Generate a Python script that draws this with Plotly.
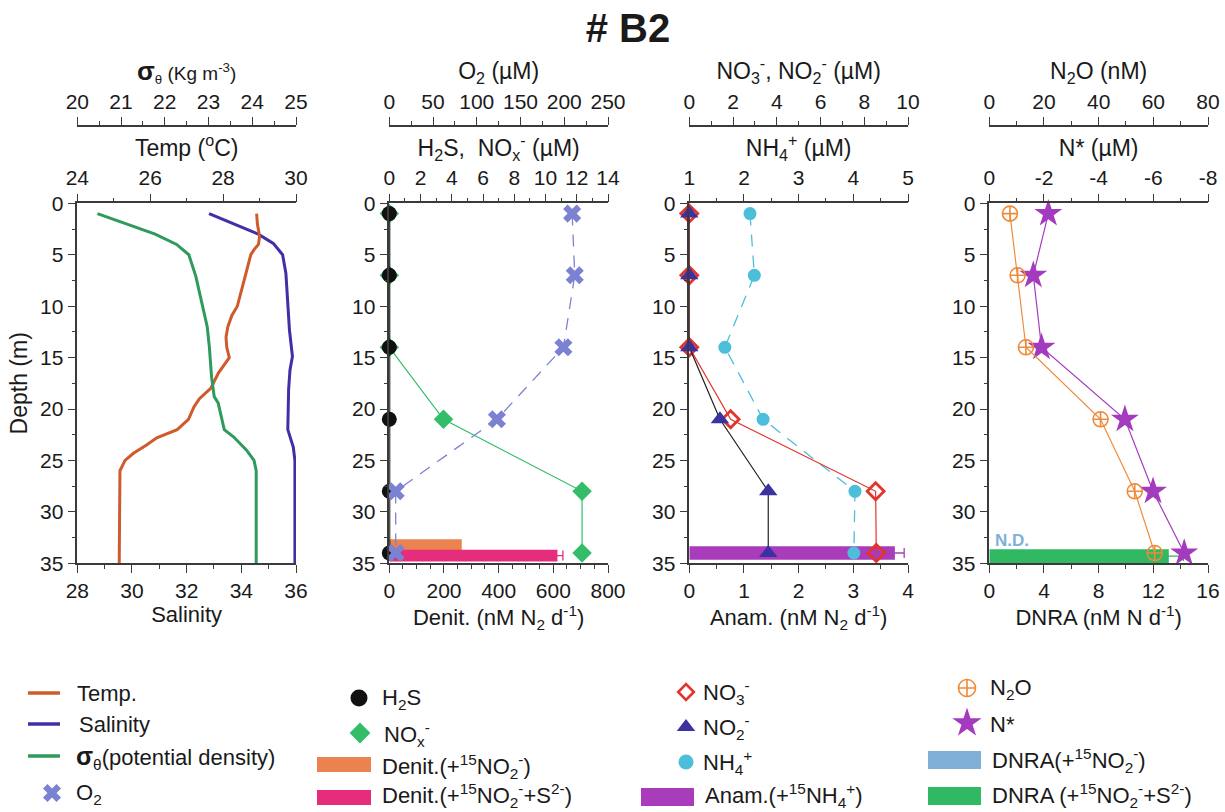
import plotly.graph_objects as go

FONT = "Liberation Sans, Arial, sans-serif"
INK = "#1a1a1a"
AXIS = "#3a3a3a"
W, H = 1225, 812

# ---------------- CTD profile ----------------
temp_depth = [1, 2, 3.2, 4, 4.5, 5, 6.5, 7.5, 9, 10, 10.9, 12, 13, 14, 15, 15.9, 16.5,
              18, 19, 19.8, 21, 22, 22.8, 23.5, 24.3, 25, 26, 35]
temperature = [28.92, 28.94, 29.00, 28.97, 28.85, 28.76, 28.65, 28.58, 28.48, 28.39, 28.24,
               28.13, 28.08, 28.10, 28.17, 27.99, 27.87, 27.66, 27.35, 27.20, 27.05, 26.74,
               26.18, 25.90, 25.54, 25.31, 25.17, 25.15]

sal_depth = [1, 2, 3, 3.9, 5, 6.8, 9.4, 12.3, 14.9, 16.2, 18.1, 22, 23.7, 25, 35]
salinity = [32.82, 33.71, 34.62, 35.17, 35.51, 35.63, 35.68, 35.76, 35.87, 35.78, 35.73,
            35.70, 35.90, 35.96, 35.96]

sig_depth = [1, 2, 3, 4, 5, 7.1, 9.4, 12, 14, 16.9, 18.8, 19.4, 22, 22.7, 24, 25, 26, 35]
sigma_theta = [20.46, 21.13, 21.78, 22.27, 22.55, 22.71, 22.84, 22.97, 23.02, 23.07, 23.13,
               23.22, 23.36, 23.57, 23.87, 24.04, 24.09, 24.09]

# ---------------- bottle samples ----------------
sample_depth = [1, 7, 14, 21, 28, 34]
h2s = [0, 0, 0, 0, 0, 0]
nox = [0, 0, 0, 3.47, 12.34, 12.34]
o2 = [209, 212, 199, 123, 7.3, 7.3]
no3 = [0, 0, 0, 1.89, 8.52, 8.55]
no2 = [0, 0, 0, 1.40, 3.61, 3.61]
nh4 = [2.11, 2.19, 1.65, 2.35, 4.03, 4.01]
n2o = [7.55, 10.35, 13.4, 40.7, 53.2, 60.5]
n_star = [-2.16, -1.61, -1.91, -4.96, -5.99, -7.13]

# ---------------- rate incubations ----------------
denit_no2_depth = [33.2]
denit_no2 = [265]
denit_no2_s_depth = [34.25]
denit_no2_s = [615]
denit_no2_s_err = [20]
anam_depth = [34.0]
anam = [3.76]
anam_err = [0.17]
dnra_s_depth = [34.3]
dnra_s = [13.13]
dnra_s_err = [1.07]

# N* tick labels (plain hyphen minus)
nstar_ticks = [0, -2, -4, -6, -8]
nstar_ticktext = ["0", "-2", "-4", "-6", "-8"]

# ---------------- colours ----------------
C_TEMP = "#CF5A2C"
C_SAL = "#3F30A8"
C_SIG = "#2E9A5C"
C_O2 = "#7C82D2"
C_H2S = "#111111"
C_NOX = "#33BD68"
C_DEN1 = "#EA834F"
C_DEN2 = "#E52D7C"
C_NO3 = "#E3332A"
C_NO2 = "#3B31A0"
C_NH4 = "#4BBEDA"
C_ANAM = "#A93CBB"
C_N2O = "#EF8A38"
C_NSTAR = "#A43BBE"
C_DNRA1 = "#7FB0D8"
C_DNRA2 = "#30B862"


def px(xp):
    return xp / W


def py(yp):
    return 1 - yp / H


PANELS = [(77.3, 296.0), (389.3, 608.0), (689.3, 908.0), (989.3, 1208.0)]
Y_DOM = [py(563.3), py(203.3)]
TOP2_POS = py(126.0)


def axis_style(rng, dtick, minor, title=None, title_size=22, standoff=4, **kw):
    d = dict(
        range=rng, dtick=dtick, showline=True, linecolor=AXIS, linewidth=1.5,
        ticks="outside", ticklen=8, tickwidth=1.3, tickcolor=AXIS,
        tickfont=dict(family=FONT, size=21, color=INK),
        showgrid=False, zeroline=False, automargin=False,
        minor=dict(dtick=minor, ticks="outside", ticklen=4, tickwidth=1.2,
                   tickcolor=AXIS, showgrid=False),
    )
    if title is not None:
        d["title"] = dict(text=title, font=dict(family=FONT, size=title_size, color=INK),
                          standoff=standoff)
    d.update(kw)
    return d


fig = go.Figure()

# ======== Panel 1: temperature, salinity, sigma-theta ========
fig.add_trace(go.Scatter(x=temperature, y=temp_depth, mode="lines", name="Temp.",
                         line=dict(color=C_TEMP, width=3), xaxis="x2", yaxis="y"))
fig.add_trace(go.Scatter(x=salinity, y=sal_depth, mode="lines", name="Salinity",
                         line=dict(color=C_SAL, width=3), xaxis="x", yaxis="y"))
fig.add_trace(go.Scatter(x=sigma_theta, y=sig_depth, mode="lines", name="σθ",
                         line=dict(color=C_SIG, width=3), xaxis="x3", yaxis="y"))

# ======== Panel 2: H2S, NOx, O2, denitrification ========
fig.add_trace(go.Scatter(x=nox, y=sample_depth, mode="lines+markers", name="NOx",
                         line=dict(color=C_NOX, width=1.2),
                         marker=dict(symbol="diamond", size=15, color=C_NOX),
                         cliponaxis=False, xaxis="x5", yaxis="y2"))
fig.add_trace(go.Scatter(x=h2s, y=sample_depth, mode="lines+markers", name="H2S",
                         line=dict(color=C_H2S, width=2),
                         marker=dict(symbol="circle", size=15, color=C_H2S),
                         cliponaxis=False, xaxis="x5", yaxis="y2"))
fig.add_trace(go.Bar(x=denit_no2, y=denit_no2_depth, orientation="h", width=1.1,
                     marker=dict(color=C_DEN1, line=dict(width=0)), name="Denit NO2",
                     xaxis="x4", yaxis="y2"))
fig.add_trace(go.Bar(x=denit_no2_s, y=denit_no2_s_depth, orientation="h", width=1.15,
                     marker=dict(color=C_DEN2, line=dict(width=0)), name="Denit NO2+S",
                     error_x=dict(type="data", array=denit_no2_s_err, color=C_DEN2,
                                  thickness=1.3, width=5),
                     xaxis="x4", yaxis="y2"))
fig.add_trace(go.Scatter(x=o2, y=sample_depth, mode="lines+markers", name="O2",
                         line=dict(color=C_O2, width=1.3, dash="12px,9px"),
                         marker=dict(symbol="x", size=16, color=C_O2,
                                     line=dict(width=0)),
                         cliponaxis=False, xaxis="x6", yaxis="y2"))

# ======== Panel 3: NO3, NO2, NH4, anammox ========
fig.add_trace(go.Bar(x=anam, y=anam_depth, orientation="h", width=1.3,
                     marker=dict(color=C_ANAM, line=dict(width=0)), name="Anammox",
                     error_x=dict(type="data", array=anam_err, color=C_ANAM,
                                  thickness=1.3, width=5),
                     xaxis="x7", yaxis="y3"))
fig.add_trace(go.Scatter(x=nh4, y=sample_depth, mode="lines+markers", name="NH4",
                         line=dict(color=C_NH4, width=1.3, dash="12px,9px"),
                         marker=dict(symbol="circle", size=13, color=C_NH4),
                         cliponaxis=False, xaxis="x8", yaxis="y3"))
fig.add_trace(go.Scatter(x=no3, y=sample_depth, mode="lines+markers", name="NO3",
                         line=dict(color=C_NO3, width=1.2),
                         marker=dict(symbol="diamond-open", size=13, color=C_NO3,
                                     line=dict(width=2.8, color=C_NO3)),
                         cliponaxis=False, xaxis="x9", yaxis="y3"))
fig.add_trace(go.Scatter(x=no2, y=sample_depth, mode="lines+markers", name="NO2",
                         line=dict(color="#222222", width=1.2),
                         marker=dict(symbol="triangle-up", size=16, color=C_NO2),
                         cliponaxis=False, xaxis="x9", yaxis="y3"))

# ======== Panel 4: N2O, N*, DNRA ========
fig.add_trace(go.Bar(x=dnra_s, y=dnra_s_depth, orientation="h", width=1.35,
                     marker=dict(color=C_DNRA2, line=dict(width=0)), name="DNRA",
                     error_x=dict(type="data", array=dnra_s_err, color=C_DNRA2,
                                  thickness=1.3, width=5),
                     xaxis="x10", yaxis="y4"))
fig.add_trace(go.Scatter(x=n2o, y=sample_depth, mode="lines+markers", name="N2O",
                         line=dict(color=C_N2O, width=1.2),
                         marker=dict(symbol="circle-cross-open", size=15, color=C_N2O,
                                     line=dict(width=1.6, color=C_N2O)),
                         cliponaxis=False, xaxis="x12", yaxis="y4"))
fig.add_trace(go.Scatter(x=n_star, y=sample_depth, mode="lines+markers", name="N*",
                         line=dict(color=C_NSTAR, width=1.2),
                         marker=dict(symbol="star", size=21, color=C_NSTAR),
                         cliponaxis=False, xaxis="x11", yaxis="y4"))

# ---------------- legend keys (pixel-space helper axes) ----------------
legend_markers = [
    # (x, y, symbol, size, colour, open)
    (52, 793, "x", 16, C_O2, False),
    (359, 698, "circle", 17, C_H2S, False),
    (360, 733, "diamond", 16, C_NOX, False),
    (686, 692, "diamond-open", 12, C_NO3, True),
    (686, 727, "triangle-up", 16, C_NO2, False),
    (686, 762, "circle", 15, C_NH4, False),
    (967, 688, "circle-cross-open", 17, C_N2O, True),
    (967, 723, "star", 22, C_NSTAR, False),
]
for lx, ly, sym, sz, col, is_open in legend_markers:
    mk = dict(symbol=sym, size=sz, color=col)
    mk["line"] = dict(width=2.6 if sym == "diamond-open" else 1.6, color=col) if is_open else dict(width=0)
    fig.add_trace(go.Scatter(x=[lx], y=[ly], mode="markers", marker=mk, showlegend=False,
                             cliponaxis=False, hoverinfo="skip", xaxis="x13", yaxis="y5"))

shapes = []
for y0, col in [(693, C_TEMP), (724, C_SAL), (756, C_SIG)]:
    shapes.append(dict(type="line", xref="x13", yref="y5", x0=28, x1=60, y0=y0, y1=y0,
                       line=dict(color=col, width=3.5)))
for x0, x1, y0, y1, col in [(317, 371, 757, 772, C_DEN1), (317, 371, 790, 805, C_DEN2),
                            (641, 694, 788, 806, C_ANAM), (928, 981, 751, 769, C_DNRA1),
                            (928, 981, 787, 805, C_DNRA2)]:
    shapes.append(dict(type="rect", xref="x13", yref="y5", x0=x0, x1=x1, y0=y0, y1=y1,
                       line=dict(width=0), fillcolor=col))

legend_texts = [
    (75, 693, "Temp."),
    (77, 724, "Salinity"),
    (74, 757, '<span style="font-size:25px"><b>σ</b></span><sub>θ</sub>(potential density)'),
    (74, 794, "O<sub>2</sub>"),
    (380, 699, "H<sub>2</sub>S"),
    (382, 734, "NO<sub>x</sub><sup>-</sup>"),
    (380, 766, "Denit.(+<sup>15</sup>NO<sub>2</sub><sup>-</sup>)"),
    (380, 795, "Denit.(+<sup>15</sup>NO<sub>2</sub><sup>-</sup>+S<sup>2-</sup>)"),
    (701, 692, "NO<sub>3</sub><sup>-</sup>"),
    (701, 727, "NO<sub>2</sub><sup>-</sup>"),
    (701, 762, "NH<sub>4</sub><sup>+</sup>"),
    (703, 795, "Anam.(+<sup>15</sup>NH<sub>4</sub><sup>+</sup>)"),
    (988, 689, "N<sub>2</sub>O"),
    (988, 724, "N*"),
    (990, 760, "DNRA(+<sup>15</sup>NO<sub>2</sub><sup>-</sup>)"),
    (990, 795, "DNRA (+<sup>15</sup>NO<sub>2</sub><sup>-</sup>+S<sup>2-</sup>)"),
]
annotations = []
for tx, ty, txt in legend_texts:
    annotations.append(dict(x=tx, y=ty, xref="x13", yref="y5", text=txt, showarrow=False,
                            xanchor="left", yanchor="middle",
                            font=dict(family=FONT, size=22, color=INK)))

annotations.append(dict(x=0.25, y=32.75, xref="x10", yref="y4", text="<b>N.D.</b>",
                        showarrow=False, xanchor="left", yanchor="middle",
                        font=dict(family=FONT, size=17, color=C_DNRA1)))

# ---------------- axes ----------------
layout_axes = {}
titles_bottom = ["Salinity", "Denit. (nM N<sub>2</sub> d<sup>-1</sup>)",
                 "Anam. (nM N<sub>2</sub> d<sup>-1</sup>)", "DNRA (nM N d<sup>-1</sup>)"]
bottom_cfg = [([28, 36], 2, 1), ([0, 800], 200, 50), ([0, 4], 1, 0.5), ([0, 16], 4, 2)]
top_cfg = [
    ([24, 30], 2, 1, "Temp (<sup>o</sup>C)", {}),
    ([0, 14], 2, 1, "H<sub>2</sub>S,  NO<sub>x</sub><sup>-</sup> (µM)", {}),
    ([1, 5], 1, 0.5, "NH<sub>4</sub><sup>+</sup> (µM)", {}),
    ([0, -8], 2, 1, "N* (µM)", dict(tickmode="array", tickvals=nstar_ticks,
                                    ticktext=nstar_ticktext)),
]
top2_cfg = [
    ([20, 25], 1, 0.5,
     '<span style="font-size:26px"><b>σ</b></span><sub>θ</sub> (Kg m<sup>-3</sup>)'),
    ([0, 250], 50, 25, "O<sub>2</sub> (µM)"),
    ([0, 10], 2, 1, "NO<sub>3</sub><sup>-</sup>, NO<sub>2</sub><sup>-</sup> (µM)"),
    ([0, 80], 20, 10, "N<sub>2</sub>O (nM)"),
]

for i, (x0p, x1p) in enumerate(PANELS):
    dom = [px(x0p), px(x1p)]
    nb = 3 * i + 1
    ny = i + 1
    xb = "x" if nb == 1 else f"x{nb}"
    yname = "y" if ny == 1 else f"y{ny}"
    rng, dt, mn = bottom_cfg[i]
    layout_axes["xaxis" if nb == 1 else f"xaxis{nb}"] = axis_style(
        rng, dt, mn, title=titles_bottom[i], title_size=22, standoff=3,
        domain=dom, anchor=yname, side="bottom")
    rng, dt, mn, ttl, extra = top_cfg[i]
    layout_axes[f"xaxis{nb + 1}"] = axis_style(
        rng, dt, mn, title=ttl, title_size=23, standoff=3,
        domain=dom, anchor=yname, side="top", overlaying=xb, **extra)
    rng, dt, mn, ttl = top2_cfg[i]
    layout_axes[f"xaxis{nb + 2}"] = axis_style(
        rng, dt, mn, title=ttl, title_size=19 if i == 0 else 23, standoff=3,
        domain=dom, anchor="free", position=TOP2_POS, side="top", overlaying=xb)
    yax = axis_style([35, 0], 5, 2.5, domain=Y_DOM, anchor=xb, side="left")
    if i == 0:
        yax["title"] = dict(text="Depth (m)", font=dict(family=FONT, size=23, color=INK),
                            standoff=6)
    layout_axes["yaxis" if ny == 1 else f"yaxis{ny}"] = yax

# helper axes spanning the legend strip, in pixel units
layout_axes["xaxis13"] = dict(domain=[0, 1], range=[0, W], visible=False, anchor="y5",
                              fixedrange=True, automargin=False)
layout_axes["yaxis5"] = dict(domain=[0, py(650)], range=[H, 650], visible=False,
                             anchor="x13", fixedrange=True, automargin=False)

fig.update_layout(
    width=W, height=H,
    margin=dict(l=0, r=0, t=0, b=0, pad=0, autoexpand=False),
    paper_bgcolor="white", plot_bgcolor="rgba(0,0,0,0)",
    showlegend=False, barmode="overlay",
    font=dict(family=FONT, color=INK),
    title=dict(text="<b># B2</b>", x=px(628), xanchor="center", y=py(28),
               yanchor="middle", automargin=False,
               font=dict(family=FONT, size=40, color=INK)),
    shapes=shapes, annotations=annotations,
    **layout_axes,
)

fig.write_html("out.html")
